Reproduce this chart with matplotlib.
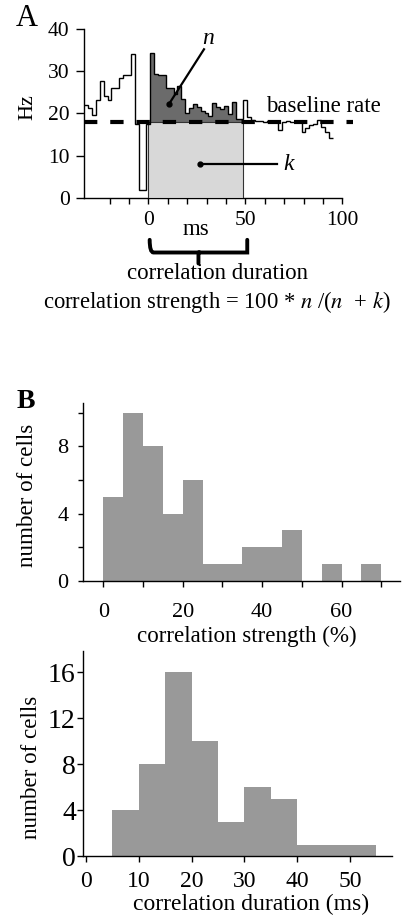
# Cross-correlogram (A) and distributions of correlation strength / duration (B)

import numpy as np
import matplotlib
matplotlib.use("Agg")
from matplotlib import pyplot as plt
from matplotlib.path import Path
from matplotlib.patches import PathPatch, Rectangle

plt.rcParams['font.family'] = ['Liberation Serif', 'DejaVu Serif']
plt.rcParams['mathtext.fontset'] = 'stix'

# ---- Panel A: correlogram (2 ms bins, left edges in ms) ----
lag_left = [-33, -31, -29, -27, -25, -23, -21, -19, -17, -15, -13, -11, -9, -7, -5, -3,
            -1, 1, 3, 5, 7, 9, 11, 13, 15, 17, 19, 21, 23, 25, 27, 29,
            31, 33, 35, 37, 39, 41, 43, 45, 47, 49, 51, 53, 55, 57, 59, 61,
            63, 65, 67, 69, 71, 73, 75, 77, 79, 81, 83, 85, 87, 89, 91, 93]
rate_hz = [22.0, 21.2, 19.6, 23.1, 27.7, 24.2, 23.1, 26.1, 26.1, 28.5, 29.2, 29.2, 34.2, 17.5, 1.9, 1.9,
           17.5, 34.3, 29.3, 29.2, 29.0, 26.1, 26.1, 24.5, 26.5, 23.5, 20.0, 21.2, 22.2, 21.5, 20.5, 20.0,
           19.5, 22.5, 21.5, 21.0, 21.8, 19.8, 22.8, 18.6, 18.6, 23.1, 19.2, 18.4, 18.2, 18.3, 18.0, 18.2,
           18.0, 17.9, 16.2, 18.0, 18.3, 18.1, 18.0, 18.2, 15.7, 16.6, 17.2, 17.6, 18.4, 16.8, 15.7, 14.1]
bin_ms = 2
baseline_rate = 18.0
corr_start = 0      # ms
corr_end = 49       # ms, correlation duration
n_from, n_to = 1, 49

# ---- Panel B ----
strength_left = [0, 5, 10, 15, 20, 25, 30, 35, 40, 45, 50, 55, 60, 65]
strength_counts = [5, 10, 8, 4, 6, 1, 1, 2, 2, 3, 0, 1, 0, 1]
duration_left = [5, 10, 15, 20, 25, 30, 35, 40, 45, 50]
duration_counts = [4, 8, 16, 10, 3, 6, 5, 1, 1, 1]

W, H = 404, 915
fig = plt.figure(figsize=(W / 100, H / 100), dpi=100)

def px_axes(x0, x1, y_top, y_bot):
    return fig.add_axes([x0 / W, 1 - y_bot / H, (x1 - x0) / W, (y_bot - y_top) / H])

def style(ax):
    for s in ['top', 'right']:
        ax.spines[s].set_visible(False)
    for s in ['left', 'bottom']:
        ax.spines[s].set_linewidth(1.0)
    ax.set_facecolor('none')

# ================= A =================
axA = px_axes(84.3, 342.3, 29, 198)
style(axA)
axA.set_xlim(-33, 100)
axA.set_ylim(0, 40)

edges = np.array(lag_left + [lag_left[-1] + bin_ms])
vals = np.array(rate_hz)

# dark "n" area above baseline inside correlation window
sel = (edges[:-1] >= n_from) & (edges[:-1] < n_to)
sel_edges = np.append(edges[:-1][sel], edges[:-1][sel][-1] + bin_ms)
axA.stairs(vals[sel], sel_edges, baseline=baseline_rate, fill=True,
           color='#6b6b6b', zorder=2)
# light "k" area below baseline
axA.add_patch(Rectangle((corr_start, 0), corr_end - corr_start, baseline_rate,
                        facecolor='#d8d8d8', edgecolor='#333333', lw=0.8, zorder=3))
# histogram outline
axA.stairs(vals, edges, baseline=None, color='black', lw=1.0, zorder=4)
# baseline rate
axA.hlines(baseline_rate, edges[0], 105.6, colors='black', lw=3.0,
           linestyles=(0, (3.2, 3.1)), zorder=5, clip_on=False)

axA.set_xticks(np.arange(-20, 101, 10))
axA.set_xticklabels(['0' if t == 0 else (str(t) if t % 50 == 0 else '')
                     for t in np.arange(-20, 101, 10)])
axA.set_yticks([0, 10, 20, 30, 40])
axA.tick_params(axis='x', length=4.3, width=1.0, pad=5, labelsize=15.5)
axA.tick_params(axis='y', length=5.5, width=1.0, pad=5, labelsize=15.5)
axA.set_ylabel('Hz', fontsize=16)
axA.yaxis.set_label_coords(-0.183, 0.54)

# annotations
axA.plot([10.6, 28.7], [22.2, 35.2], color='black', lw=1.6, zorder=6)
axA.plot([10.6], [22.2], 'o', color='black', ms=3.5, zorder=6)
axA.text(30.8, 37.8, 'n', fontsize=17, style='italic', ha='center', va='center')
axA.plot([26.6, 66.5], [8.0, 8.0], color='black', lw=1.6, zorder=6)
axA.plot([26.6], [8.0], 'o', color='black', ms=3.5, zorder=6)
axA.text(69.5, 8.0, 'k', fontsize=17, style='italic', ha='left', va='center')
axA.text(60.5, 21.6, 'baseline rate', fontsize=16.5, ha='left', va='center', clip_on=False)
axA.text(24.6, -7.4, 'ms', fontsize=16.5, ha='center', va='center')

# curly brace under correlation window
bx0, bx1 = corr_start + 0.7, corr_end + 2
bm = (bx0 + bx1) / 2
yt, ym, yb = -9.9, -12.9, -15.5
verts = [(bx0, yt), (bx0, ym), (bx0 + 2, ym), (bx0 + 4, ym),
         (bm - 4, ym), (bm - 2, ym), (bm, ym), (bm, yb),
         (bm, ym), (bm + 2, ym), (bm + 4, ym),
         (bx1 - 4, ym), (bx1 - 2, ym), (bx1, ym), (bx1, yt)]
codes = [Path.MOVETO, Path.CURVE3, Path.CURVE3, Path.LINETO,
         Path.LINETO, Path.CURVE3, Path.CURVE3, Path.LINETO,
         Path.MOVETO, Path.CURVE3, Path.CURVE3,
         Path.LINETO, Path.CURVE3, Path.CURVE3, Path.LINETO]
axA.add_patch(PathPatch(Path(verts, codes), facecolor='none', edgecolor='black',
                        lw=2.8, clip_on=False, capstyle='round'))
axA.text(35.5, -17.9, 'correlation duration', fontsize=16.5, ha='center', va='center')
axA.text(35.5, -24.7, r'correlation strength = 100 * $\mathit{n}$ /($\mathit{n}$  + $\mathit{k}$)',
         fontsize=16.3, ha='center', va='center')

fig.text(27 / W, 1 - 19 / H, 'A', fontsize=22, ha='center', va='center')

# ================= B top =================
axB1 = px_axes(83, 400, 402.7, 580.7)
style(axB1)
axB1.bar(strength_left, strength_counts, width=5, align='edge', color='#999999', lw=0)
axB1.set_xlim(-5.1, 74.7)
axB1.set_ylim(0, 10.6)
axB1.set_xticks(np.arange(0, 71, 10))
axB1.set_xticklabels([str(t) if t % 20 == 0 else '' for t in np.arange(0, 71, 10)])
axB1.set_yticks(np.arange(0, 11, 2))
axB1.set_yticklabels([str(t) if t % 4 == 0 else '' for t in np.arange(0, 11, 2)])
axB1.tick_params(axis='x', length=4.0, width=1.0, pad=12, labelsize=16)
axB1.tick_params(axis='y', length=3.6, width=1.0, pad=7, labelsize=16)
axB1.set_ylabel('number of cells', fontsize=16.6)
axB1.yaxis.set_label_coords(-0.142, 0.477)
axB1.set_xlabel('correlation strength (%)', fontsize=16.6)
axB1.xaxis.set_label_coords(0.516, -0.252)

fig.text(26 / W, 1 - 402 / H, 'B', fontsize=20, fontweight='bold', ha='center', va='center')

# ================= B bottom =================
axB2 = px_axes(83.4, 392.2, 650.7, 856)
style(axB2)
axB2.bar(duration_left, duration_counts, width=5, align='edge', color='#999999', lw=0)
axB2.set_xlim(-0.5, 58)
axB2.set_ylim(0, 17.9)
axB2.set_xticks(np.arange(0, 51, 10))
axB2.set_yticks([0, 4, 8, 12, 16])
axB2.tick_params(axis='x', length=4.0, width=1.0, pad=7, labelsize=17)
axB2.tick_params(axis='y', length=4.5, width=1.0, pad=1, labelsize=20)
axB2.set_ylabel('number of cells', fontsize=16.6)
axB2.yaxis.set_label_coords(-0.134, 0.43)
fig.text(251 / W, 1 - 904 / H, 'correlation duration (ms)', fontsize=17,
         ha='center', va='center')

fig.savefig('out.png', dpi=100)
